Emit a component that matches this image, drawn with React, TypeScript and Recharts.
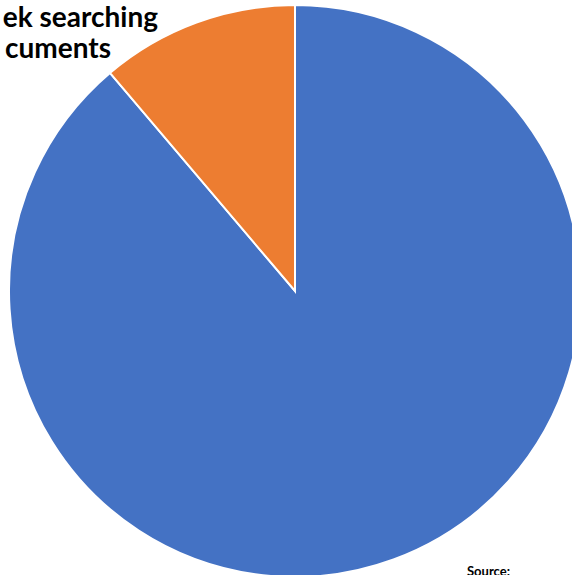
import { PieChart, Pie, Cell } from 'recharts';

const categories = ['Other time', 'Searching for documents'];
const shares = [88.8, 11.2];
const colors = ['#4472C4', '#ED7D31'];
const titleLines = ['ek searching', 'cuments'];
const sourceLabel = 'Source:';

const data = categories.map((name, i) => ({ name, value: shares[i] }));

export default function App() {
  return (
    <div
      style={{
        position: 'absolute',
        left: 0,
        top: 0,
        width: 572,
        height: 575,
        overflow: 'hidden',
        background: '#fff',
        fontFamily: 'Lato, "Open Sans", sans-serif',
      }}
    >
      <PieChart width={572} height={575} margin={{ top: 0, right: 0, bottom: 0, left: 0 }}>
        <Pie
          data={data}
          dataKey="value"
          nameKey="name"
          cx={295}
          cy={291}
          outerRadius={286}
          startAngle={90}
          endAngle={-270}
          stroke="#fff"
          strokeWidth={2}
          isAnimationActive={false}
        >
          {data.map((d, i) => (
            <Cell key={d.name} fill={colors[i]} />
          ))}
        </Pie>
      </PieChart>

      {/* title, cut off on the left like the reference */}
      <div
        style={{
          position: 'absolute',
          right: 572 - 158,
          top: 1,
          fontSize: 28,
          fontWeight: 700,
          color: '#000',
          whiteSpace: 'nowrap',
          lineHeight: '31px',
          textAlign: 'right',
        }}
      >
        {titleLines[0]}
      </div>
      <div
        style={{
          position: 'absolute',
          right: 572 - 111,
          top: 32,
          fontSize: 28,
          fontWeight: 700,
          color: '#000',
          whiteSpace: 'nowrap',
          lineHeight: '31px',
          textAlign: 'right',
        }}
      >
        {titleLines[1]}
      </div>

      <div
        style={{
          position: 'absolute',
          left: 467,
          top: 563,
          fontSize: 13,
          fontWeight: 700,
          color: '#000',
          whiteSpace: 'nowrap',
        }}
      >
        {sourceLabel}
      </div>
    </div>
  );
}
